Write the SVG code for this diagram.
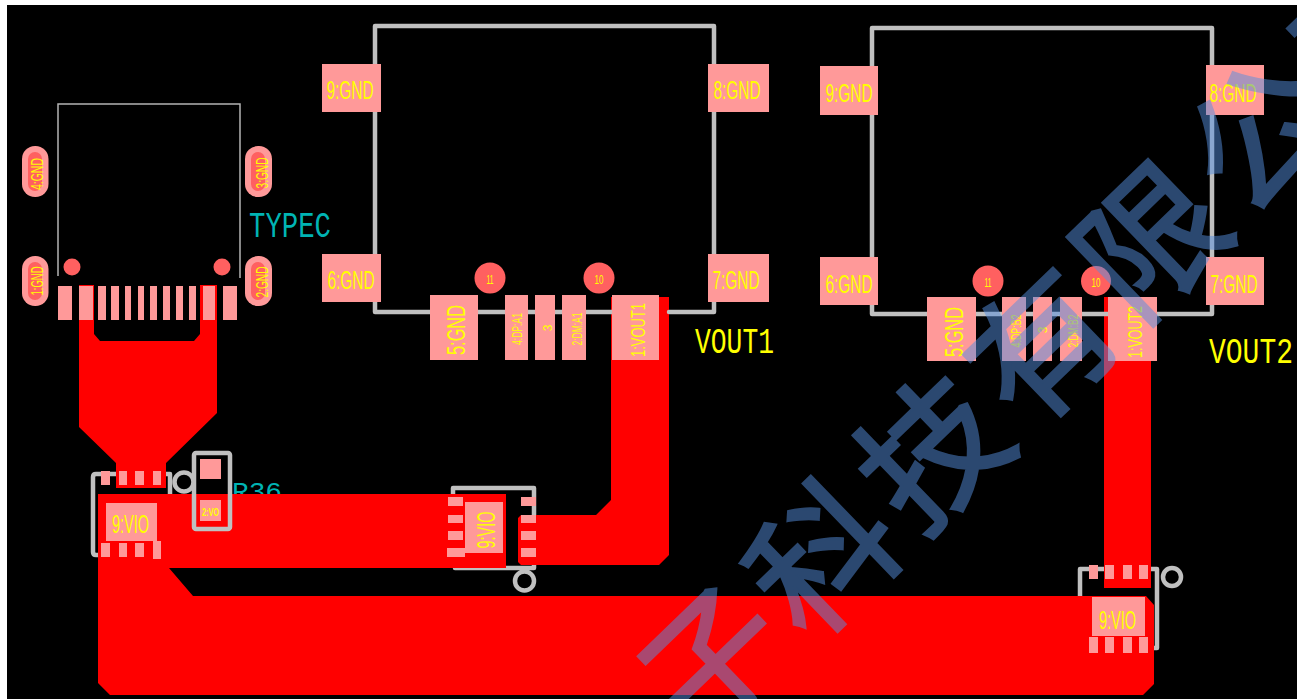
<svg xmlns="http://www.w3.org/2000/svg" width="1297" height="699" viewBox="0 0 1297 699">
<style>
.pad{fill:#ff9999}
.hole{fill:#ff6060}
.ol{fill:none;stroke:#c0c0c0;stroke-width:4.5;stroke-linejoin:round;stroke-linecap:round}
.thin{fill:none;stroke:#b4b4b4;stroke-width:1.5}
.tr{fill:#ff0000}
text{font-family:"Liberation Sans",Arial,sans-serif;fill:#ffff00}
.l{font-size:25px;text-anchor:middle;font-weight:400}
.s{font-size:14px;text-anchor:middle}
.o{font-size:17px;text-anchor:middle}
.big{font-family:"Liberation Mono",monospace;font-size:36px}
.wm{font-family:"Noto Sans CJK SC",sans-serif;fill:#5690e0;stroke:#5690e0;stroke-width:3;opacity:.5;font-size:142px;letter-spacing:10px}
</style>
<rect width="1297" height="699" fill="#fff"/>
<rect x="7" y="5" width="1290" height="694" fill="#000"/>

<g id="R36-label"><text x="232" y="500" class="big" style="fill:#00b4b4;font-size:26px" textLength="50" lengthAdjust="spacingAndGlyphs">R36</text></g>
<g id="U1-outline"><path class="ol" d="M170,494V474H96Q93,474 93,477V552Q93,555 96,555H100"/><circle class="ol" cx="184" cy="482" r="9.500"/></g>
<g id="U2-outline"><path class="ol" d="M453,495V488H534V520M534,560V568H455"/></g>
<g id="U3-outline"><path class="ol" d="M1080,596V569H1157V648H1154"/></g>

<g id="connectors">
<path class="tr" d="M79,285H94V334L100,341H194L200,334V285H217V413L166,463V488H116V463L79,427Z"/>
<path class="tr" d="M98,494H506V568H169L193,596H1146L1154,605V684L1143,695H110L98,683Z"/>
<path class="tr" d="M518,518L521,515H596L611,500V297H669V555L659,565H521L518,562Z"/>
<path class="tr" d="M1104,297H1151V588H1104Z"/>
</g>

<g id="TYPEC">
<path class="thin" d="M58,276V104H240V278"/>
<rect class="pad" x="22" y="146" width="26.500" height="51" rx="13"/><rect class="hole" x="28" y="152" width="14" height="39" rx="7"/>
<rect class="pad" x="22" y="256" width="26.500" height="50" rx="13"/><rect class="hole" x="28" y="262" width="14" height="38" rx="7"/>
<rect class="pad" x="245" y="146" width="27" height="51" rx="13"/><rect class="hole" x="251" y="152" width="14" height="39" rx="7"/>
<rect class="pad" x="245" y="256" width="27" height="50" rx="13"/><rect class="hole" x="251" y="262" width="14" height="38" rx="7"/>
<text class="o" transform="translate(43,174) rotate(-90)" textLength="32" lengthAdjust="spacingAndGlyphs">4:GND</text>
<text class="o" transform="translate(43,281) rotate(-90)" textLength="29" lengthAdjust="spacingAndGlyphs">1:GND</text>
<text class="o" transform="translate(268,173) rotate(-90)" textLength="31" lengthAdjust="spacingAndGlyphs">3:GND</text>
<text class="o" transform="translate(268,282) rotate(-90)" textLength="31" lengthAdjust="spacingAndGlyphs">2:GND</text>
<circle class="hole" cx="72" cy="267" r="8.500"/><circle class="hole" cx="222" cy="267" r="8.500"/>
<path class="pad" d="M58,286h14v34h-14zM79,286h14v34h-14zM98,286h8v34h-8zM111,286h8v34h-8zM125,286h6v34h-6zM138,286h6v34h-6zM150,286h7v34h-7zM163,286h7v34h-7zM176,286h7v34h-7zM189,286h7v34h-7zM203,286h12v34h-12zM223,286h14v34h-14z"/>
<text x="249" y="237" class="big" style="fill:#00b4b4" textLength="82" lengthAdjust="spacingAndGlyphs">TYPEC</text>
</g>

<g id="R36">
<rect x="194" y="453" width="36" height="76" rx="2" fill="none" stroke="#c0c0c0" stroke-width="4.500"/>
<rect class="pad" x="200" y="459" width="21" height="20"/>
<rect class="pad" x="200" y="500" width="21" height="21"/>
<text class="s" x="210.500" y="516" style="font-size:10px;font-weight:700" textLength="17" lengthAdjust="spacingAndGlyphs">2:VO</text>
</g>

<g id="U1">
<rect class="pad" x="106" y="503" width="51" height="38"/>
<text class="l" x="130.500" y="533" textLength="37" lengthAdjust="spacingAndGlyphs">9:VIO</text>
<path class="pad" d="M101,471h9v14h-9zM119,471h8v14h-8zM135,471h9v14h-9zM153,471h8v14h-8zM101,543h9v14h-9zM119,543h8v14h-8zM135,543h9v14h-9zM153,541h8v18h-8z"/>
</g>

<g id="U2">
<rect class="pad" x="465" y="502" width="38" height="51"/>
<text class="l" transform="translate(495,530) rotate(-90)" textLength="37" lengthAdjust="spacingAndGlyphs">9:VIO</text>
<path class="pad" d="M448,497h15v9h-15zM448,515h15v8h-15zM448,531h15v9h-15zM447,548h18v9h-18zM521,497h15v9h-15zM521,515h15v8h-15zM521,531h15v9h-15zM521,548h15v9h-15z"/>
<circle class="ol" cx="524.500" cy="581" r="9.500"/>
</g>

<g id="U3">
<rect class="pad" x="1092" y="597" width="53" height="39"/>
<text class="l" x="1117.500" y="629" textLength="37" lengthAdjust="spacingAndGlyphs">9:VIO</text>
<path class="pad" d="M1089,565h9v14h-9zM1105,565h9v14h-9zM1123,565h9v14h-9zM1139,565h9v14h-9zM1089,637h9v16h-9zM1105,637h9v16h-9zM1123,637h9v16h-9zM1139,637h9v16h-9z"/>
<circle class="ol" cx="1172" cy="577" r="9"/>
</g>

<g id="VOUT1">
<path class="ol" d="M375,64V26H714V64M714,112V254M714,302V312H669M612,312H375V302M375,254V112"/>
<rect class="pad" x="322" y="64" width="59" height="48"/>
<rect class="pad" x="708" y="64" width="61" height="48"/>
<rect class="pad" x="322" y="254" width="59" height="48"/>
<rect class="pad" x="708" y="254" width="61" height="48"/>
<rect class="pad" x="430" y="295" width="48" height="65"/>
<rect class="pad" x="505" y="295" width="23" height="65"/>
<rect class="pad" x="535" y="295" width="20" height="65"/>
<rect class="pad" x="562" y="295" width="24" height="65"/>
<rect class="pad" x="612" y="295" width="47" height="65"/>
<circle class="hole" cx="490" cy="278" r="15.500"/><circle class="hole" cx="599" cy="278" r="15.500"/>
<text class="s" x="490" y="284" style="font-size:13px" textLength="7" lengthAdjust="spacingAndGlyphs">11</text>
<text class="s" x="599" y="284" style="font-size:13px" textLength="9" lengthAdjust="spacingAndGlyphs">10</text>
<text class="l" x="350" y="99" textLength="47" lengthAdjust="spacingAndGlyphs">9:GND</text>
<text class="l" x="737" y="99" textLength="47" lengthAdjust="spacingAndGlyphs">8:GND</text>
<text class="l" x="351" y="289" textLength="47" lengthAdjust="spacingAndGlyphs">6:GND</text>
<text class="l" x="736" y="289" textLength="47" lengthAdjust="spacingAndGlyphs">7:GND</text>
<text class="l" transform="translate(465,330) rotate(-90)" textLength="50" lengthAdjust="spacingAndGlyphs">5:GND</text>
<text class="s" transform="translate(522,329) rotate(-90)" textLength="32" lengthAdjust="spacingAndGlyphs">4:DP:A1</text>
<text class="s" transform="translate(552,328) rotate(-90)" style="font-size:12px">3</text>
<text class="s" transform="translate(582,329) rotate(-90)" textLength="33" lengthAdjust="spacingAndGlyphs">2:DM:A1</text>
<text class="l" transform="translate(645,330) rotate(-90)" style="font-size:21px" textLength="54" lengthAdjust="spacingAndGlyphs">1:VOUT1</text>
<text x="695" y="353" class="big" style="fill:#ffff00" textLength="79" lengthAdjust="spacingAndGlyphs">VOUT1</text>
</g>

<g id="VOUT2">
<path class="ol" d="M872,66V28H1212V65M1212,115V257M1212,305V314H1157M1108,314H872V305M872,257V115"/>
<rect class="pad" x="820" y="66" width="58" height="49"/>
<rect class="pad" x="1206" y="65" width="58" height="50"/>
<rect class="pad" x="820" y="257" width="58" height="48"/>
<rect class="pad" x="1206" y="257" width="58" height="48"/>
<rect class="pad" x="927" y="297" width="49" height="64"/>
<rect class="pad" x="1002" y="297" width="24" height="64"/>
<rect class="pad" x="1033" y="297" width="19" height="64"/>
<rect class="pad" x="1060" y="297" width="22" height="64"/>
<rect class="pad" x="1108" y="297" width="49" height="64"/>
<circle class="hole" cx="988" cy="281" r="15.500"/><circle class="hole" cx="1096" cy="281" r="15"/>
<text class="s" x="988" y="287" style="font-size:13px" textLength="7" lengthAdjust="spacingAndGlyphs">11</text>
<text class="s" x="1096" y="287" style="font-size:13px" textLength="9" lengthAdjust="spacingAndGlyphs">10</text>
<text class="l" x="849" y="102" textLength="47" lengthAdjust="spacingAndGlyphs">9:GND</text>
<text class="l" x="1233" y="102" textLength="47" lengthAdjust="spacingAndGlyphs">8:GND</text>
<text class="l" x="849" y="293" textLength="47" lengthAdjust="spacingAndGlyphs">6:GND</text>
<text class="l" x="1234" y="293" textLength="47" lengthAdjust="spacingAndGlyphs">7:GND</text>
<text class="l" transform="translate(963,332) rotate(-90)" textLength="50" lengthAdjust="spacingAndGlyphs">5:GND</text>
<text class="s" transform="translate(1021,331) rotate(-90)" textLength="33" lengthAdjust="spacingAndGlyphs">4:DP:B2</text>
<text class="s" transform="translate(1047,330) rotate(-90)" style="font-size:12px">3</text>
<text class="s" transform="translate(1078,331) rotate(-90)" textLength="33" lengthAdjust="spacingAndGlyphs">2:DM:B2</text>
<text class="l" transform="translate(1142,332) rotate(-90)" style="font-size:21px" textLength="52" lengthAdjust="spacingAndGlyphs">1:VOUT2</text>
<text x="1209" y="363" class="big" style="fill:#ffff00" textLength="84" lengthAdjust="spacingAndGlyphs">VOUT2</text>
</g>

<g id="watermark">
<text class="wm" transform="translate(699,750) rotate(-44)">子科技有限公司</text>
</g>
</svg>
